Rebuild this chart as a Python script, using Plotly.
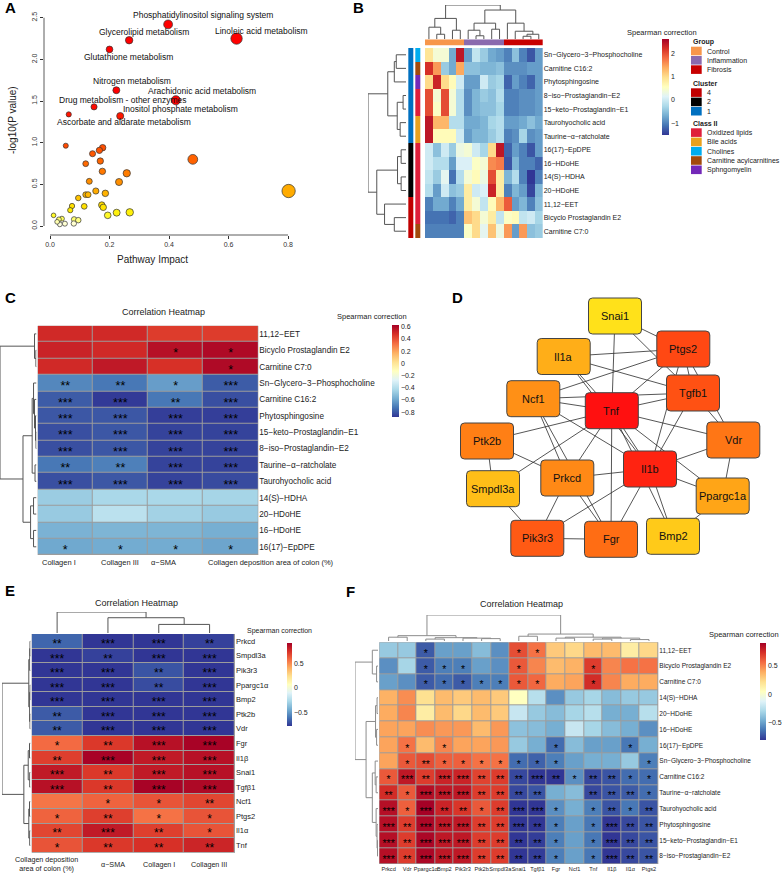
import plotly.graph_objects as go

W, H = 782, 873
FONT = "Arial, Liberation Sans, sans-serif"
M = "\u2212"

# ---------------- A: pathway analysis ----------------
path_names = ["Phosphatidylinositol signaling system", "Linoleic acid metabolism",
              "Glycerolipid metabolism", "Glutathione metabolism", "Nitrogen metabolism",
              "Arachidonic acid metabolism", "Drug metabolism - other enzymes",
              "Inositol phosphate metabolism", "Ascorbate and aldarate metabolism"]
path_impact = [0.397, 0.627, 0.266, 0.200, 0.223, 0.423, 0.148, 0.236, 0.063]
path_logp = [2.42, 2.25, 2.23, 2.12, 1.63, 1.51, 1.43, 1.32, 1.34]
other_impact = [0.053, 0.177, 0.166, 0.143, 0.120, 0.169, 0.480, 0.176, 0.258, 0.132, 0.232,
                0.154, 0.186, 0.120, 0.128, 0.095, 0.802, 0.074, 0.068, 0.115, 0.174, 0.179,
                0.194, 0.224, 0.268, 0.012, 0.040, 0.030, 0.081, 0.095, 0.050, 0.033, 0.080, 0.024]
other_logp = [0.964, 0.940, 0.908, 0.868, 0.748, 0.780, 0.800, 0.656, 0.633, 0.536, 0.528,
              0.420, 0.392, 0.376, 0.376, 0.336, 0.420, 0.240, 0.190, 0.236, 0.252, 0.224,
              0.128, 0.160, 0.164, 0.128, 0.088, 0.080, 0.080, 0.070, 0.028, 0.020, 0.030, 0.050]

# ---------------- B: clustered heatmap ----------------
B_rows = ["Sn" + M + "Glycero" + M + "3" + M + "Phosphocholine", "Carnitine C16:2", "Phytosphingosine",
          "8" + M + "iso" + M + "Prostaglandin" + M + "E2", "15" + M + "keto" + M + "Prostaglandin" + M + "E1",
          "Taurohyocholic acid", "Taurine" + M + "\u03b1" + M + "ratcholate", "16(17)" + M + "EpDPE",
          "16" + M + "HDoHE", "14(S)" + M + "HDHA", "20" + M + "HDoHE", "11,12" + M + "EET",
          "Bicyclo Prostaglandin E2", "Carnitine C7:0"]
B_group = ["Control"] * 5 + ["Inflammation"] * 5 + ["Fibrosis"] * 5
B_cluster = ["1"] * 7 + ["2"] * 4 + ["4"] * 3
B_class = ["Cholines", "Carnitine acylcarnitines", "Sphngomyelin", "Oxidized lipids", "Oxidized lipids",
           "Bile acids", "Bile acids", "Oxidized lipids", "Oxidized lipids", "Oxidized lipids",
           "Oxidized lipids", "Oxidized lipids", "Oxidized lipids", "Carnitine acylcarnitines"]
B_vals = [
    [0.9, 0.4, 0.4, -0.7, 2.4, -0.8, -0.1, -0.4, -0.7, -0.8, -1.0, -0.5, -1.0, -1.3, -0.8],
    [2.2, 1.5, -0.4, -0.7, 1.4, -0.5, -0.5, -0.6, -0.6, -0.5, -0.9, -0.9, -0.9, -0.8, -0.8],
    [1.0, 2.3, 1.0, 0.6, 0.0, -0.8, -0.8, 0.0, -0.4, -0.3, -1.2, -0.8, -1.0, -1.2, -0.8],
    [2.0, 0.4, 2.0, 0.4, -0.2, -0.9, -0.6, -0.4, -0.5, -0.2, -1.0, -1.0, -0.9, -0.9, -0.8],
    [2.0, 0.5, 2.0, 0.4, -0.2, -0.9, -0.6, -0.5, -0.5, -0.3, -1.0, -1.0, -0.9, -0.9, -0.8],
    [2.4, 1.3, 1.3, -0.2, -0.2, -0.7, -0.7, -0.6, -0.3, -0.2, -0.8, -0.8, -0.7, -0.5, -0.7],
    [2.4, 0.6, 0.6, 0.6, 0.0, -0.8, -0.6, -0.6, -0.4, -0.2, -1.0, -0.9, -0.3, -0.9, -0.8],
    [0.0, -0.5, 0.0, -0.4, 0.3, 0.4, 0.0, -0.3, 1.0, 2.4, -1.2, -0.8, -1.0, -1.3, -0.8],
    [0.0, -0.2, -0.2, -0.8, 0.1, 0.1, 0.5, 0.4, 1.6, 1.7, -1.3, -0.6, -1.0, -1.0, -1.2],
    [-0.1, -0.4, 0.2, -1.1, -0.2, 0.4, 0.6, 0.3, 2.0, 0.8, -0.6, -0.2, -1.0, -1.5, -1.0],
    [-0.2, -0.8, 0.0, -0.5, -0.4, 0.8, 0.0, 0.1, 2.3, 0.8, -1.0, -0.6, -0.8, -1.4, -0.6],
    [-1.0, -0.7, -0.7, -1.0, -0.7, 0.8, 0.4, -0.1, 0.6, 1.3, 1.9, -0.8, -0.6, -1.0, -0.5],
    [-1.1, -1.1, -1.1, -1.2, -1.0, 1.2, 1.0, 0.4, 0.8, -0.1, 0.5, 0.6, -0.1, 0.0, -0.3],
    [-1.0, -1.0, -1.0, -1.0, -1.0, 0.5, 1.0, 0.2, 1.2, 0.3, 1.5, -0.8, 1.5, -0.5, -0.4],
]
B_col_tree = [[[0, [1, 2, 5], 12], [3, 4, 9], 20.7],
              [[[5, [6, 7, 3.5], 9], [8, 9, 10], 16], [10, [11, [[12, 13, 3], 14, 5], 8], 16], 29], 34]
B_row_tree = [[[[0, 1, 10], 2, 12], [[3, 4, 3], [5, 6, 6], 9], 18.7],
              [[[7, 8, 5], [9, 10, 5], 8.7], [11, [12, 13, 12], 22], 30], 39]

# ---------------- C: metabolites vs fibrosis ----------------
C_rows = ["11,12" + M + "EET", "Bicyclo Prostaglandin E2", "Carnitine C7:0",
          "Sn" + M + "Glycero" + M + "3" + M + "Phosphocholine", "Carnitine C16:2", "Phytosphingosine",
          "15" + M + "keto" + M + "Prostaglandin" + M + "E1", "8" + M + "iso" + M + "Prostaglandin" + M + "E2",
          "Taurine" + M + "\u03b1" + M + "ratcholate", "Taurohyocholic acid", "14(S)" + M + "HDHA",
          "20" + M + "HDoHE", "16" + M + "HDoHE", "16(17)" + M + "EpDPE"]
C_cols = ["Collagen I", "Collagen III", "\u03b1" + M + "SMA", "Collagen deposition area of colon (%)"]
C_vals = [
    [0.50, 0.50, 0.45, 0.45], [0.52, 0.50, 0.58, 0.60], [0.50, 0.55, 0.48, 0.60],
    [-0.68, -0.72, -0.62, -0.79], [-0.79, -0.87, -0.72, -0.82], [-0.80, -0.80, -0.86, -0.86],
    [-0.82, -0.80, -0.85, -0.85], [-0.82, -0.80, -0.85, -0.85], [-0.72, -0.70, -0.85, -0.85],
    [-0.82, -0.80, -0.85, -0.83], [-0.47, -0.43, -0.43, -0.44], [-0.48, -0.38, -0.45, -0.48],
    [-0.56, -0.55, -0.55, -0.57], [-0.59, -0.58, -0.58, -0.60]]
C_stars = [
    ["", "", "", ""], ["", "", "*", "*"], ["", "", "", "*"], ["**", "**", "*", "***"],
    ["***", "***", "**", "***"], ["***", "***", "***", "***"], ["***", "***", "***", "***"],
    ["***", "***", "***", "***"], ["**", "**", "***", "***"], ["***", "***", "***", "***"],
    ["", "", "", ""], ["", "", "", ""], ["", "", "", ""], ["*", "*", "*", "*"]]
C_row_tree = [[0, [1, 2, 0.6], 2],
              [[[3, [4, [5, [6, 7, 0.5], 1], 2], 3], [8, 9, 1.5], 4.4], [[10, 11, 3], [12, 13, 3], 6], 13.7], 37]

# ---------------- D: gene network ----------------
genes = ["Snai1", "Ptgs2", "Il1a", "Tgfb1", "Ncf1", "Tnf", "Vdr", "Ptk2b", "Il1b", "Prkcd",
         "Smpdl3a", "Ppargc1a", "Pik3r3", "Fgr", "Bmp2"]
gene_x = [615, 683.3, 563.7, 693, 533.3, 611.8, 733.3, 487, 650, 567.3, 493, 722.7, 537.3, 611, 673]
gene_y = [316, 349, 356.5, 393, 398.7, 410.7, 440, 441, 469, 478, 488.7, 496, 538.3, 539.3, 536.3]
gene_score = [3, 9.6, 5.2, 9.2, 6.5, 12, 7.6, 7.2, 11.2, 6.8, 4.5, 5.6, 8.8, 8, 4]
edges = [("Snai1", "Ptgs2"), ("Snai1", "Tgfb1"), ("Snai1", "Tnf"),
         ("Il1a", "Ptgs2"), ("Il1a", "Tgfb1"), ("Il1a", "Tnf"), ("Il1a", "Il1b"),
         ("Ncf1", "Ptgs2"), ("Ncf1", "Tnf"), ("Ncf1", "Tgfb1"), ("Ncf1", "Il1b"), ("Ncf1", "Prkcd"),
         ("Ncf1", "Fgr"), ("Tnf", "Ptgs2"), ("Tnf", "Tgfb1"), ("Tnf", "Vdr"), ("Tnf", "Ptk2b"),
         ("Tnf", "Prkcd"), ("Tnf", "Il1b"), ("Tnf", "Fgr"), ("Tnf", "Smpdl3a"), ("Tnf", "Bmp2"),
         ("Tnf", "Ppargc1a"), ("Ptgs2", "Tgfb1"), ("Ptgs2", "Il1b"), ("Ptgs2", "Vdr"),
         ("Tgfb1", "Il1b"), ("Tgfb1", "Vdr"), ("Vdr", "Il1b"), ("Vdr", "Ppargc1a"),
         ("Ptk2b", "Prkcd"), ("Ptk2b", "Smpdl3a"), ("Il1b", "Prkcd"), ("Il1b", "Pik3r3"),
         ("Il1b", "Fgr"), ("Il1b", "Bmp2"), ("Il1b", "Ppargc1a"), ("Smpdl3a", "Pik3r3"),
         ("Prkcd", "Pik3r3"), ("Prkcd", "Fgr"), ("Pik3r3", "Fgr"), ("Ppargc1a", "Bmp2")]

# ---------------- E: genes vs fibrosis ----------------
E_rows = ["Prkcd", "Smpdl3a", "Pik3r3", "Ppargc1\u03b1", "Bmp2", "Ptk2b", "Vdr", "Fgr", "Il1\u03b2",
          "Snai1", "Tgf\u03b21", "Ncf1", "Ptgs2", "Il1\u03b1", "Tnf"]
E_cols = ["Collagen deposition<br>area of colon (%)", "\u03b1" + M + "SMA", "Collagen I", "Collagen III"]
E_vals = [
    [-0.65, -0.80, -0.80, -0.75], [-0.80, -0.75, -0.80, -0.80], [-0.80, -0.80, -0.70, -0.80],
    [-0.80, -0.80, -0.72, -0.80], [-0.78, -0.80, -0.80, -0.80], [-0.68, -0.80, -0.80, -0.80],
    [-0.68, -0.80, -0.78, -0.80], [0.58, 0.72, 0.85, 0.90], [0.70, 0.90, 0.82, 0.85],
    [0.82, 0.72, 0.82, 0.85], [0.85, 0.72, 0.90, 0.88], [0.55, 0.60, 0.64, 0.68],
    [0.60, 0.70, 0.56, 0.64], [0.68, 0.82, 0.70, 0.64], [0.64, 0.72, 0.74, 0.78]]
E_stars = [
    ["**", "***", "***", "**"], ["***", "**", "***", "***"], ["***", "***", "**", "***"],
    ["***", "***", "**", "***"], ["***", "***", "***", "***"], ["**", "***", "***", "***"],
    ["**", "***", "***", "***"], ["*", "**", "***", "***"], ["**", "***", "***", "***"],
    ["***", "**", "***", "***"], ["***", "**", "***", "***"], ["", "*", "*", "**"],
    ["*", "**", "*", "*"], ["**", "***", "**", "*"], ["*", "**", "**", "**"]]
E_row_tree = [[[[0, 1, 0.5], 2, 0.8], [[3, 4, 0.4], [5, 6, 0.5], 0.9], 1.7],
              [[[7, 8, 1], [9, 10, 0.8], 2.3], [[11, 12, 1], [13, 14, 0.8], 1.7], 6.7], 28.7]
E_col_tree = [0, [1, [2, 3, 9], 16], 22]

# ---------------- F: genes vs metabolites ----------------
F_rows = ["11,12" + M + "EET", "Bicyclo Prostaglandin E2", "Carnitine C7:0", "14(S)" + M + "HDHA",
          "20" + M + "HDoHE", "16" + M + "HDoHE", "16(17)" + M + "EpDPE",
          "Sn" + M + "Glycero" + M + "3" + M + "Phosphocholine", "Carnitine C16:2",
          "Taurine" + M + "\u03b1" + M + "ratcholate", "Taurohyocholic acid", "Phytosphingosine",
          "15" + M + "keto" + M + "Prostaglandin" + M + "E1", "8" + M + "iso" + M + "Prostaglandin" + M + "E2"]
F_cols = ["Prkcd", "Vdr", "Ppargc1\u03b1", "Bmp2", "Pik3r3", "Ptk2b", "Smpdl3a", "Snai1", "Tgf\u03b21",
          "Fgr", "Ncf1", "Tnf", "Il1\u03b2", "Il1\u03b1", "Ptgs2"]
F_vals = [
    [-0.35, -0.35, -0.70, -0.50, -0.50, -0.40, -0.55, 0.65, 0.55, 0.30, 0.25, 0.35, 0.35, 0.15, 0.25],
    [-0.55, -0.30, -0.70, -0.60, -0.60, -0.50, -0.55, 0.62, 0.50, 0.35, 0.38, 0.70, 0.50, 0.55, 0.55],
    [-0.50, -0.55, -0.70, -0.65, -0.70, -0.60, -0.60, 0.62, 0.58, 0.40, 0.42, 0.75, 0.50, 0.40, 0.40],
    [0.38, 0.48, 0.22, 0.35, 0.30, 0.35, 0.30, 0.05, -0.25, -0.55, -0.35, -0.30, -0.40, -0.35, -0.35],
    [0.40, 0.50, 0.15, 0.35, 0.25, 0.35, 0.30, -0.20, -0.35, -0.40, -0.30, -0.25, -0.45, -0.45, -0.25],
    [0.42, 0.42, 0.48, 0.45, 0.45, 0.35, 0.45, -0.38, -0.40, -0.45, -0.20, -0.30, -0.40, -0.45, -0.55],
    [0.42, 0.55, 0.35, 0.50, 0.42, 0.42, 0.45, -0.35, -0.45, -0.65, -0.40, -0.50, -0.50, -0.62, -0.45],
    [0.42, 0.62, 0.65, 0.60, 0.60, 0.55, 0.55, -0.65, -0.68, -0.60, -0.50, -0.45, -0.45, -0.35, -0.60],
    [0.62, 0.82, 0.70, 0.78, 0.78, 0.68, 0.70, -0.75, -0.82, -0.85, -0.55, -0.75, -0.72, -0.65, -0.65],
    [0.75, 0.62, 0.85, 0.82, 0.82, 0.70, 0.70, -0.75, -0.72, -0.45, -0.40, -0.75, -0.72, -0.70, -0.65],
    [0.85, 0.60, 0.90, 0.78, 0.72, 0.62, 0.70, -0.85, -0.85, -0.55, -0.45, -0.60, -0.72, -0.62, -0.72],
    [0.85, 0.70, 0.88, 0.82, 0.82, 0.70, 0.70, -0.85, -0.80, -0.60, -0.50, -0.62, -0.85, -0.75, -0.72],
    [0.85, 0.70, 0.88, 0.82, 0.82, 0.70, 0.70, -0.82, -0.78, -0.60, -0.50, -0.62, -0.85, -0.75, -0.72],
    [0.85, 0.70, 0.88, 0.82, 0.82, 0.70, 0.70, -0.80, -0.78, -0.60, -0.50, -0.62, -0.85, -0.75, -0.72]]
F_stars = [
    ["", "", "*", "", "", "", "", "*", "*", "", "", "", "", "", ""],
    ["", "", "*", "*", "*", "", "", "*", "", "", "", "*", "", "", ""],
    ["", "", "*", "*", "*", "*", "*", "*", "*", "", "", "*", "", "", ""],
    [""] * 15, [""] * 15, [""] * 15,
    ["", "*", "", "*", "", "", "", "", "", "*", "", "", "", "*", ""],
    ["", "*", "**", "*", "*", "*", "*", "*", "*", "*", "", "", "", "", "*"],
    ["*", "***", "**", "***", "***", "**", "**", "**", "***", "**", "*", "**", "**", "*", "*"],
    ["**", "*", "***", "***", "***", "**", "**", "**", "**", "", "", "**", "**", "**", "*"],
    ["***", "*", "***", "**", "**", "*", "**", "***", "***", "*", "", "*", "**", "*", "**"],
    ["***", "**", "***", "***", "***", "**", "**", "***", "**", "*", "", "*", "***", "**", "**"],
    ["***", "**", "***", "***", "***", "**", "**", "**", "**", "*", "", "*", "***", "**", "**"],
    ["***", "**", "***", "***", "***", "**", "**", "**", "**", "*", "", "*", "***", "**", "**"]]
F_row_tree = [[0, [1, 2, 1.5], 6],
              [[[3, 4, 1], [5, 6, 1.5], 2.6],
               [[7, [8, 9, 2], 3], [10, [11, [12, 13, 0.5], 1], 2], 6], 12.6], 24.3]
F_col_tree = [[[0, 1, 4], [[2, 3, 2], [4, [5, 6, 2.5], 3], 3.5], 5.6],
              [[7, 8, 5], [[9, 10, 3], [[11, 12, 2], [13, 14, 1.5], 3], 4], 7.3], 27.3]

# ---------------- styling ----------------
RDYLBU = ["#313695", "#4575B4", "#74ADD1", "#ABD9E9", "#E0F3F8", "#FFFFBF",
          "#FEE090", "#FDAE61", "#F46D43", "#D73027", "#A50026"]
RDYLBU_SCALE = [[i / 10, c] for i, c in enumerate(RDYLBU)]
HEAT = [[0, "#FFFFFF"], [0.02, "#FFFFB0"], [0.04, "#FFFF40"], [0.07, "#FFEE00"], [0.1, "#FFDD00"],
        [0.16, "#FFB000"], [0.21, "#FF9000"], [0.28, "#FF7000"], [0.37, "#FF5000"],
        [0.5, "#FF2000"], [0.6, "#FF0000"], [1, "#FF0000"]]
GROUP_COL = {"Control": "#F7964B", "Inflammation": "#8A6AAE", "Fibrosis": "#C80000"}
CLUSTER_COL = {"4": "#C00000", "2": "#000000", "1": "#0070C0"}
CLASS_COL = {"Oxidized lipids": "#DF1F3A", "Bile acids": "#E9A11E", "Cholines": "#00ADEF",
             "Carnitine acylcarnitines": "#A24A0C", "Sphngomyelin": "#7328B8"}

fig = go.Figure()
axes_layout = {}
annotations = []
shapes = []
counter = [0]


def px_x(p):
    return p / W


def px_y(p):
    return 1 - p / H


def new_axes(x0, x1, y0, y1, xr, yr, xkw=None, ykw=None):
    counter[0] += 1
    s = "" if counter[0] == 1 else str(counter[0])
    xa = dict(domain=[x0 / W, x1 / W], range=xr, anchor="y" + s, visible=False, fixedrange=True)
    ya = dict(domain=[1 - y1 / H, 1 - y0 / H], range=yr, anchor="x" + s, visible=False, fixedrange=True)
    if xkw:
        xa.update(xkw)
    if ykw:
        ya.update(ykw)
    axes_layout["xaxis" + s] = xa
    axes_layout["yaxis" + s] = ya
    return "x" + s, "y" + s


def text(t, x, y, size, anchor="center", bold=False, angle=0, color="#222"):
    annotations.append(dict(text=("<b>%s</b>" % t) if bold else t, x=px_x(x), y=px_y(y),
                            xref="paper", yref="paper", showarrow=False, xanchor=anchor,
                            yanchor="middle", textangle=angle,
                            font=dict(size=size, color=color, family=FONT)))


def dendro(tree):
    pos, ht = [], []

    def walk(t):
        if isinstance(t, int):
            return t, 0.0
        a, b, h = t
        pa, ha = walk(a)
        pb, hb = walk(b)
        pos.extend([pa, pa, pb, pb, None])
        ht.extend([ha, h, h, hb, None])
        return (pa + pb) / 2, h

    walk(tree)
    return pos, ht


def row_dendro(tree, n, x0, x1, y0, y1, color="#555"):
    pos, ht = dendro(tree)
    xa, ya = new_axes(x0, x1, y0, y1, [tree[2], 0], [n - 0.5, -0.5])
    fig.add_trace(go.Scatter(x=ht, y=pos, mode="lines", xaxis=xa, yaxis=ya, hoverinfo="skip",
                             line=dict(color=color, width=1)))


def col_dendro(tree, m, x0, x1, y0, y1, color="#555"):
    pos, ht = dendro(tree)
    xa, ya = new_axes(x0, x1, y0, y1, [-0.5, m - 0.5], [0, tree[2]])
    fig.add_trace(go.Scatter(x=pos, y=ht, mode="lines", xaxis=xa, yaxis=ya, hoverinfo="skip",
                             line=dict(color=color, width=1)))


def cat_heatmap(z_labels, cmap, x0, x1, y0, y1, gap=0):
    cats = list(cmap)
    z = [[cats.index(v) for v in row] for row in z_labels]
    k = len(cats)
    scale = []
    for i, c in enumerate(cats):
        scale += [[i / k, cmap[c]], [(i + 1) / k, cmap[c]]]
    n, m = len(z), len(z[0])
    xa, ya = new_axes(x0, x1, y0, y1, [-0.5, m - 0.5], [n - 0.5, -0.5])
    fig.add_trace(go.Heatmap(z=z, xaxis=xa, yaxis=ya, colorscale=scale, zmin=-0.5, zmax=k - 0.5,
                             showscale=False, xgap=gap, hoverinfo="skip"))


def corr_heatmap(vals, stars, rows, cax, x0, x1, y0, y1, lab_size, star_size, xkw=None, gap=True):
    n, m = len(vals), len(vals[0])
    ykw = dict(visible=True, side="right", showgrid=False, zeroline=False, showline=False, ticks="",
               tickvals=list(range(n)), ticktext=rows, tickfont=dict(size=lab_size, color="#222", family=FONT))
    xk = dict(visible=bool(xkw), showgrid=False, zeroline=False, showline=False, ticks="")
    if xkw:
        xk.update(xkw)
    xa, ya = new_axes(x0, x1, y0, y1, [-0.5, m - 0.5], [n - 0.5, -0.5], xkw=xk, ykw=ykw)
    if gap:
        shapes.append(dict(type="rect", xref=xa, yref=ya, x0=-0.5, x1=m - 0.5, y0=-0.5, y1=n - 0.5,
                           fillcolor="#9C9C9C", line=dict(color="#9C9C9C", width=1), layer="below"))
    fig.add_trace(go.Heatmap(z=vals, xaxis=xa, yaxis=ya, coloraxis=cax, xgap=1 if gap else 0,
                             ygap=1 if gap else 0, hoverinfo="skip"))
    if stars:
        sx, sy, st = [], [], []
        for i in range(n):
            for j in range(m):
                if stars[i][j]:
                    sx.append(j)
                    sy.append(i + 0.25)
                    st.append(stars[i][j])
        fig.add_trace(go.Scatter(x=sx, y=sy, text=st, mode="text", xaxis=xa, yaxis=ya, hoverinfo="skip",
                                 textfont=dict(size=star_size, color="#000", family=FONT)))
    return xa, ya


def colorbar_axis(cmin, cmax, x0, y0, y1, thick, tickvals, ticktext=None):
    cb = dict(x=px_x(x0), xanchor="left", y=px_y(y0), yanchor="top", lenmode="pixels", len=y1 - y0,
              thickness=thick, xpad=0, ypad=0, outlinewidth=0, ticks="", tickvals=tickvals,
              tickfont=dict(size=7, color="#222", family=FONT))
    if ticktext:
        cb["ticktext"] = ticktext
    return dict(cmin=cmin, cmax=cmax, colorscale=RDYLBU_SCALE, colorbar=cb)


# ---------------- A ----------------
tick_style = dict(visible=True, showgrid=False, zeroline=False, showline=False, ticks="outside",
                  ticklen=3, tickwidth=0.8, tickcolor="#333", tickformat=".1f",
                  tickfont=dict(size=7, color="#333", family=FONT))
xa, ya = new_axes(44, 300, 10, 235, [-0.0202, 0.8403], [-0.108, 2.593],
                  xkw=dict(tick_style, tickvals=[0, 0.2, 0.4, 0.6, 0.8]),
                  ykw=dict(tick_style, tickvals=[0, 0.5, 1, 1.5, 2, 2.5], tickangle=-90))
shapes.append(dict(type="line", xref=xa, yref="paper", x0=0, x1=0.8, y0=px_y(235), y1=px_y(235),
                   line=dict(color="#333", width=0.8)))
shapes.append(dict(type="line", xref="paper", yref=ya, x0=px_x(44), x1=px_x(44), y0=0, y1=2.5,
                   line=dict(color="#333", width=0.8)))
all_x = other_impact + path_impact
all_y = other_logp + path_logp
fig.add_trace(go.Scatter(x=all_x, y=all_y, mode="markers", xaxis=xa, yaxis=ya, hoverinfo="skip",
                         marker=dict(size=[4.5 + 11 * v for v in all_x], color=all_y, colorscale=HEAT,
                                     cmin=0, cmax=2.5, line=dict(color="#333", width=0.7), opacity=1)))
label_offsets = [(35, -9.3), (25, -8), (15, -8), (19, 8), (16, -9), (26, -9), (29, -7), (60, -7), (55, 8)]
for name, x, y, (dx, dy) in zip(path_names, path_impact, path_logp, label_offsets):
    annotations.append(dict(text=name, x=x, y=y, xref=xa, yref=ya, xshift=dx, yshift=-dy, showarrow=False,
                            font=dict(size=8.5, color="#111", family=FONT)))
text("Pathway Impact", 152, 259, 10)
text("-log10(P value)", 13, 120, 10, angle=-90)
text("A", 10, 8, 15, bold=True, color="#000")

# ---------------- B ----------------
col_dendro(B_col_tree, 15, 425, 542.7, 5, 39.3)
row_dendro(B_row_tree, 14, 368, 406, 48, 238)
cat_heatmap([B_group], GROUP_COL, 425, 542.7, 39.3, 45.7)
cat_heatmap([[c, k] for c, k in zip(B_cluster, B_class)],
            {**CLUSTER_COL, **CLASS_COL}, 407.3, 421.7, 48, 238, gap=2)
corr_heatmap(B_vals, None, B_rows, "coloraxis", 425, 542.7, 48, 238, 7, 8, gap=False)
text("Spearman correction", 662, 33, 7.5)
legend_blocks = [("Group", 41.7, GROUP_COL, ["Control", "Inflammation", "Fibrosis"]),
                 ("Cluster", 83.3, CLUSTER_COL, ["4", "2", "1"]),
                 ("Class II", 123.3, CLASS_COL, list(CLASS_COL))]
for title, ty, cmap, items in legend_blocks:
    text(title, 691, ty, 7, anchor="left", bold=True)
    for i, it in enumerate(items):
        cy = ty + 9.3 * (i + 1)
        shapes.append(dict(type="rect", xref="paper", yref="paper", x0=px_x(691), x1=px_x(701.7),
                           y0=px_y(cy + 4.3), y1=px_y(cy - 4.3), fillcolor=cmap[it], line=dict(width=0)))
        text(it, 705, cy, 7, anchor="left")
text("B", 358, 8, 15, bold=True, color="#000")

# ---------------- C ----------------
row_dendro(C_row_tree, 14, 0, 36.5, 325.7, 555)
corr_heatmap(C_vals, C_stars, C_rows, "coloraxis2", 37.7, 258.3, 325.7, 555, 8.2, 12.5)
for lab, lx in zip(C_cols, [40, 99, 149, 205.7]):
    text(lab, lx, 562.7, 7.5, anchor="left")
text("Correlation Heatmap", 163, 311.7, 9)
text("Spearman correction", 372, 316.7, 7.5)
text("C", 10, 297, 15, bold=True, color="#000")

# ---------------- D ----------------
xa, ya = new_axes(440, 782, 270, 580, [440, 782], [580, 270])
pos = {g: (x, y) for g, x, y in zip(genes, gene_x, gene_y)}
ex, ey = [], []
for a, b in edges:
    ex += [pos[a][0], pos[b][0], None]
    ey += [pos[a][1], pos[b][1], None]
fig.add_trace(go.Scatter(x=ex, y=ey, mode="lines", xaxis=xa, yaxis=ya, hoverinfo="skip",
                         line=dict(color="#2b2b2b", width=0.8)))
smin, smax = min(gene_score), max(gene_score)


def node_color(s):
    t = (s - smin) / (smax - smin)
    return "rgb(255,%d,%d)" % (round(225 - 209 * t), round(26 - 10 * t))


def rrect(cx, cy, w, h, r):
    x0, x1, y0, y1 = cx - w / 2, cx + w / 2, cy - h / 2, cy + h / 2
    return (f"M{x0 + r},{y0} L{x1 - r},{y0} Q{x1},{y0} {x1},{y0 + r} L{x1},{y1 - r} Q{x1},{y1} {x1 - r},{y1} "
            f"L{x0 + r},{y1} Q{x0},{y1} {x0},{y1 - r} L{x0},{y0 + r} Q{x0},{y0} {x0 + r},{y0} Z")


for g, x, y, s in zip(genes, gene_x, gene_y, gene_score):
    shapes.append(dict(type="path", xref=xa, yref=ya, path=rrect(x, y, 53, 36, 4),
                       fillcolor=node_color(s), line=dict(color="#444", width=1), layer="above"))
    annotations.append(dict(text=g, x=x, y=y, xref=xa, yref=ya, showarrow=False,
                            font=dict(size=11, color="#111", family=FONT)))
text("D", 457, 297, 15, bold=True, color="#000")

# ---------------- E ----------------
row_dendro(E_row_tree, 15, 2, 30.5, 634, 852.7)
col_dendro(E_col_tree, 4, 31.7, 235, 612, 633)
corr_heatmap(E_vals, E_stars, E_rows, "coloraxis3", 31.7, 235, 634, 852.7, 7.5, 12)
for lab, lx in zip(E_cols, [46.3, 113, 159.3, 209.3]):
    text(lab, lx, 864, 7.2)
text("Correlation Heatmap", 136.7, 603.3, 9)
text("Spearman correction", 279, 630.7, 7)
text("E", 10, 590, 15, bold=True, color="#000")

# ---------------- F ----------------
row_dendro(F_row_tree, 14, 355, 378, 642.3, 864, color="#8c8c8c")
col_dendro(F_col_tree, 15, 379.3, 658.3, 615, 641, color="#8c8c8c")
corr_heatmap(F_vals, F_stars, F_rows, "coloraxis4", 379.3, 658.3, 642.3, 864, 6.5, 10.5,
             xkw=dict(tickvals=list(range(15)), ticktext=F_cols, tickangle=0,
                      tickfont=dict(size=5.6, color="#222", family=FONT)))
text("Correlation Heatmap", 521.7, 604, 9)
text("Spearman correction", 744, 634.7, 7.5)
text("F", 350, 591, 15, bold=True, color="#000")

fig.update_layout(
    width=W, height=H, autosize=False, margin=dict(l=0, r=0, t=0, b=0),
    paper_bgcolor="white", plot_bgcolor="white", showlegend=False,
    font=dict(family=FONT, color="#222"),
    coloraxis=colorbar_axis(-1.5, 2.6, 662, 39, 135, 7, [-1, 0, 1, 2]),
    coloraxis2=colorbar_axis(-0.88, 0.63, 392.3, 325, 416.7, 6.7,
                             [-0.8, -0.6, -0.4, -0.2, 0, 0.2, 0.4, 0.6]),
    coloraxis3=colorbar_axis(-0.78, 0.91, 286.7, 643.3, 726.7, 5, [-0.5, 0, 0.5]),
    coloraxis4=colorbar_axis(-0.80, 0.905, 760, 642.7, 739.3, 5.7, [-0.5, 0, 0.5]),
    annotations=annotations, shapes=shapes, **axes_layout)

fig.write_html("out.html", config={"displayModeBar": False},
               post_script="document.body.style.margin='0';")
